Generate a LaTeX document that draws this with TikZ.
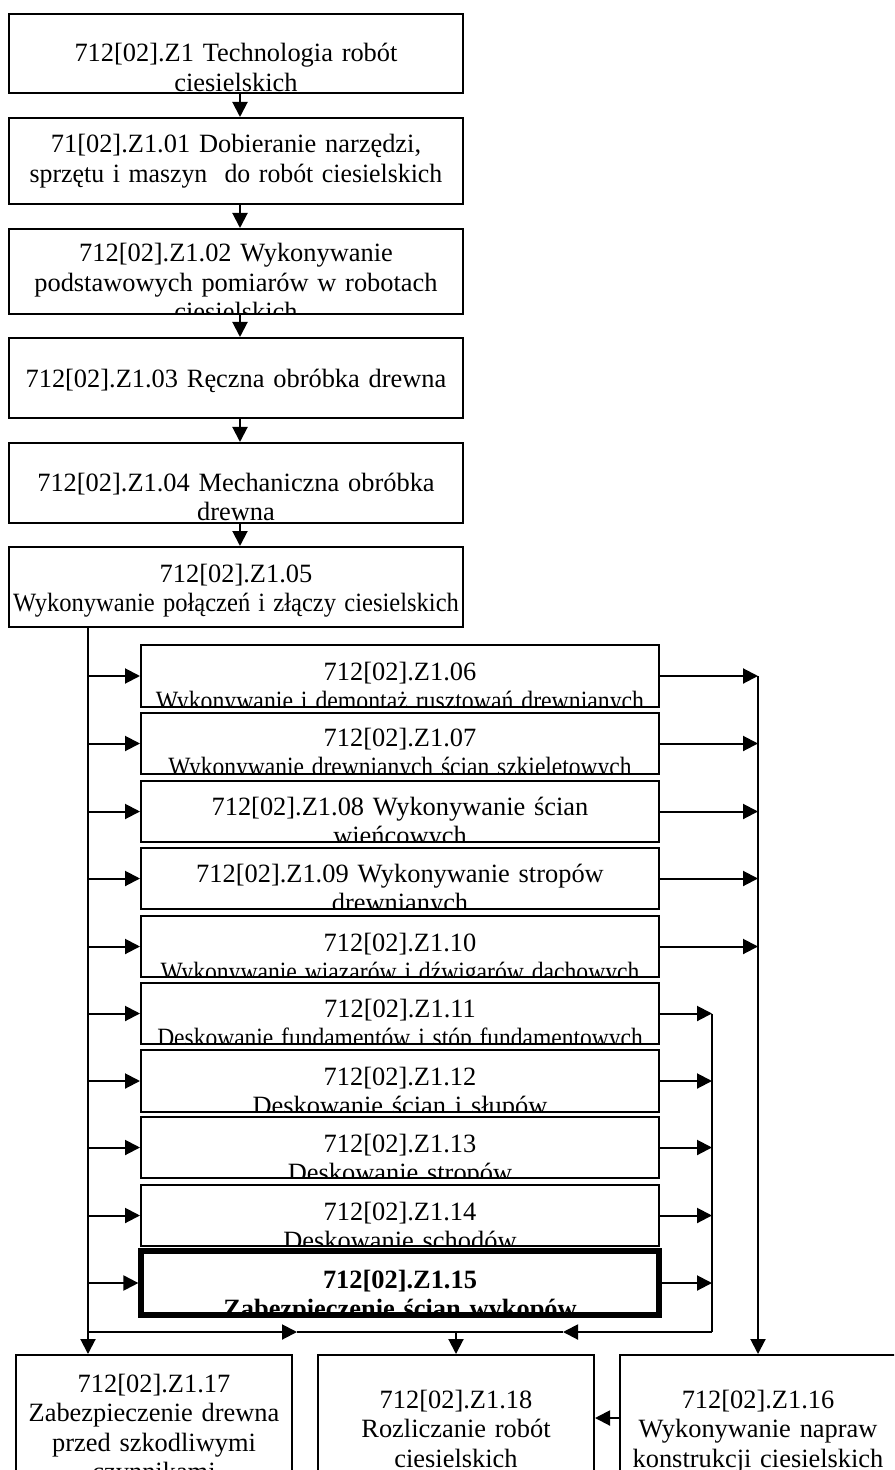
\documentclass[tikz,border=0pt]{standalone}
\usepackage{fontspec}
\usepackage{graphicx}
\setmainfont{Liberation Serif}
\usetikzlibrary{arrows.meta}
\newcommand\fsz{\fontsize{13.2pt}{14.75pt}\selectfont}
\newcommand\cnd[2]{\scalebox{#1}[1]{#2}}
\tikzset{
  box/.style={draw, line width=1pt, inner sep=0pt},
  txt/.style={inner sep=0pt, text width=400pt, align=center, font=\fsz},
  hl/.style={line width=2.6pt, font=\fsz\bfseries},
  con/.style={line width=1pt},
  arr/.style={con, -{Triangle[length=7.5pt,width=7.5pt]}},
}
% #1 extra style, #2 name, #3 left, #4 top, #5 right, #6 bottom, #7 first baseline, #8 text
\newcommand\mybox[8][]{%
  \begin{scope}
    \clip (#3,#4) rectangle (#5,#6);
    \node[txt,#1,anchor=base] (#2-t) at ({(#3+#5)/2},#7) {#8};
  \end{scope}
  \node[box,#1,minimum width={(#5-#3)*0.5pt},minimum height={(#6-#4)*0.5pt}] (#2) at ({(#3+#5)/2},{(#4+#6)/2}) {};
}
\begin{document}
\begin{tikzpicture}[x=0.5pt,y=-0.5pt]
\useasboundingbox (0,0) rectangle (894,1470);
\clip (0,0) rectangle (894,1470);

% top chain
\mybox{b0}{9}{14}{463}{93}{62}{712[02].Z1 Technologia robót\\ciesielskich}
\mybox{b1}{9}{118}{463}{204}{153}{71[02].Z1.01 Dobieranie narzędzi,\\\cnd{0.977}{sprzętu i maszyn\ \ do robót ciesielskich}}
\mybox{b2}{9}{229}{463}{314}{262}{712[02].Z1.02 Wykonywanie\\podstawowych pomiarów w robotach\\ciesielskich}
\mybox{b3}{9}{338}{463}{418}{388}{712[02].Z1.03 Ręczna obróbka drewna}
\mybox{b4}{9}{443}{463}{523}{491}{712[02].Z1.04 Mechaniczna obróbka\\drewna}
\mybox{b5}{9}{547}{463}{627}{582}{712[02].Z1.05\\\cnd{0.93}{Wykonywanie połączeń i złączy ciesielskich}}

% middle column
\mybox{m6}{141}{645}{659}{707}{680}{712[02].Z1.06\\\cnd{0.9}{Wykonywanie i demontaż rusztowań drewnianych}}
\mybox{m7}{141}{713}{659}{774}{746}{712[02].Z1.07\\\cnd{0.89}{Wykonywanie drewnianych ścian szkieletowych}}
\mybox{m8}{141}{781}{659}{842}{815}{712[02].Z1.08 Wykonywanie ścian\\wieńcowych}
\mybox{m9}{141}{848}{659}{909}{882}{712[02].Z1.09 Wykonywanie stropów\\drewnianych}
\mybox{m10}{141}{916}{659}{977}{951}{712[02].Z1.10\\\cnd{0.895}{Wykonywanie wiązarów i dźwigarów dachowych}}
\mybox{m11}{141}{983}{659}{1044}{1017}{712[02].Z1.11\\\cnd{0.89}{Deskowanie fundamentów i stóp fundamentowych}}
\mybox{m12}{141}{1050}{659}{1112}{1085}{712[02].Z1.12\\Deskowanie ścian i słupów}
\mybox{m13}{141}{1117}{659}{1178}{1152}{712[02].Z1.13\\Deskowanie stropów}
\mybox{m14}{141}{1185}{659}{1246}{1220}{712[02].Z1.14\\Deskowanie schodów}
\mybox[hl]{m15}{141}{1251}{659}{1315}{1288}{712[02].Z1.15\\Zabezpieczenie ścian wykopów}

% bottom row
\mybox{b17}{16}{1355}{292}{1500}{1392}{712[02].Z1.17\\Zabezpieczenie drewna\\przed szkodliwymi\\czynnikami}
\mybox{b18}{318}{1355}{594}{1500}{1408}{712[02].Z1.18\\Rozliczanie robót\\ciesielskich}
\mybox{b16}{620}{1355}{896}{1500}{1408}{712[02].Z1.16\\Wykonywanie napraw\\konstrukcji ciesielskich}

% helper coordinates
\coordinate (ax) at (240,0);
\coordinate (L) at (88,0);
\coordinate (R1) at (758,0);
\coordinate (R2) at (712,0);
\coordinate (bot) at (0,1332);
\coordinate (tipL) at (297,1332);
\coordinate (tipR) at (563,1332);
\coordinate (mid) at (456,1332);
\coordinate (ya) at (0,1418);

% chain arrows
\draw[arr] (b0.south -| ax) -- (b1.north -| ax);
\draw[arr] (b1.south -| ax) -- (b2.north -| ax);
\draw[arr] (b2.south -| ax) -- (b3.north -| ax);
\draw[arr] (b3.south -| ax) -- (b4.north -| ax);
\draw[arr] (b4.south -| ax) -- (b5.north -| ax);

% left trunk and branches
\draw[arr] (b5.south -| L) -- (b17.north -| L);
\foreach \n in {6,...,15} \draw[arr] (m\n.west -| L) -- (m\n.west);

% right outputs to 16
\foreach \n in {6,...,10} \draw[arr] (m\n.east) -- (m\n.east -| R1);
\draw[arr] (m6.east -| R1) -- (b16.north -| R1);

% right outputs to 18
\foreach \n in {11,...,15} \draw[arr] (m\n.east) -- (m\n.east -| R2);
\draw[con] (m11.east -| R2) -- (R2 |- bot);
\draw[arr] (R2 |- bot) -- (tipR);
\draw[arr] (L |- bot) -- (tipL);
\draw[con] (tipL) -- (tipR);
\draw[arr] (mid) -- (b18.north);

% 16 -> 18
\draw[arr] (b16.west |- ya) -- (b18.east |- ya);
\end{tikzpicture}
\end{document}
